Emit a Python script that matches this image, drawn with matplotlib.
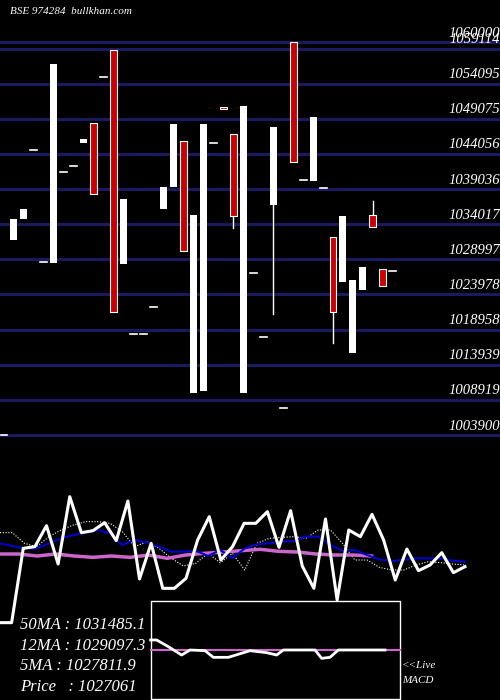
import matplotlib
matplotlib.use("Agg")
import matplotlib.pyplot as plt
import numpy as np

# candles: open, close (equal -> dash), extra wicks, colour flag
opens = [1003900, 1034766, 1036195, 1044627, 1028622, 1028479, 1041483, 1042340,
         1046198, 1038339, 1055058, 1058917, 1037624, 1018333, 1018333, 1022191,
         1036195, 1039339, 1045913, 1035338, 1048342, 1045627, 1050771, 1046913,
         1009902, 1027050, 1017904, 1036767, 1007758, 1060000, 1040340, 1040197,
         1039196, 1032194, 1025764, 1015618, 1024621, 1033623, 1027621, 1027336]
closes = [1003900, 1031766, 1034766, 1044627, 1028622, 1056916, 1041483, 1042340,
          1045627, 1048485, 1055058, 1021477, 1028336, 1018333, 1018333, 1022191,
          1039339, 1048342, 1030194, 1009902, 1010188, 1045627, 1050485, 1035195,
          1050914, 1027050, 1017904, 1047913, 1007758, 1042912, 1040340, 1049342,
          1039196, 1021477, 1035195, 1026050, 1027907, 1035338, 1025192, 1027336]
red_idx = [9, 11, 18, 22, 23, 29, 33, 37, 38]
highs = {37: 1037339}
lows = {23: 1033480, 27: 1021191, 33: 1017047}

grid_levels = [1060000, 1059114, 1054095, 1049075, 1044056, 1039036, 1034017,
               1028997, 1023978, 1018958, 1013939, 1008919, 1003900]

# indicator panel (arbitrary units, larger = higher)
price_line = [-428, -428, -205, -200, -137, -252, -50, -158, -152, -128, -182, -63,
              -297, -190, -325, -325, -295, -180, -110, -240, -200, -130, -130, -95,
              -202, -92, -258, -325, -117, -360, -150, -170, -103, -180, -300, -207,
              -272, -255, -218, -278, -260]
ma_blue = [-190, -198, -205, -205, -190, -175, -165, -158, -150, -160, -195, -180,
           -188, -200, -215, -215, -212, -228, -210, -235, -205, -193, -190, -185,
           -183, -170, -170, -195, -212, -210, -225, -238, -243, -240, -235, -235,
           -235, -242, -245]
ma_purple = [-222, -222, -228, -222, -228, -232, -228, -232, -225, -235, -225, -220,
             -216, -212, -208, -214, -216, -222, -225, -225, -228]
ma_dotted = [-158, -158, -190, -200, -170, -150, -135, -125, -125, -130, -155, -200,
             -185, -205, -235, -258, -250, -220, -248, -220, -270, -190, -175, -172,
             -170, -175, -150, -150, -190, -240, -240, -262, -270, -270, -255, -245,
             -248, -252, -255]
macd_line = [-480, -480, -500, -525, -510, -512, -532, -532, -512, -518, -525, -510,
             -510, -535, -532, -510, -510]
macd_x = [452, 470, 505, 545, 570, 615, 640, 685, 750, 800, 830, 850, 945, 965, 990,
          1015, 1155]

labels = ["50MA : 1031485.1", "12MA : 1029097.3", "5MA : 1027811.9", "Price   : 1027061"]

SERIF = "Liberation Serif"

fig = plt.figure(figsize=(5, 7), dpi=100, facecolor="black")
ax = fig.add_axes([0, 0, 1, 1], facecolor="black")
step = 142.9
ax.set_ylim(1003900 - 265 * step, 1003900 + 435 * step)
ax.set_xlim(-4 / 9.97, 496 / 9.97)
ax.axis("off")

for lv in grid_levels:
    ax.axhline(lv, color="#1a1a5e", lw=2.2, zorder=1)
    ax.text(49.75, lv + 9 * step, str(lv), color="white", ha="right", va="center",
            fontsize=10.5, family=SERIF, style="italic", zorder=3)

for i, (o, c) in enumerate(zip(opens, closes)):
    red = i in red_idx
    col = "#cc0000" if red else "white"
    top, bot = max(o, c), min(o, c)
    if i in highs:
        ax.plot([i, i], [top, highs[i]], color="white", lw=1, zorder=2)
    if i in lows:
        ax.plot([i, i], [bot, lows[i]], color="white", lw=1, zorder=2)
    if top - bot < 200:
        ax.plot([i - 0.35, i + 0.35], [o, o], color="white", lw=1.2, zorder=2)
    else:
        ax.bar(i, top - bot, bottom=bot, width=0.7, color=col,
               edgecolor="white", linewidth=0.8 if red else 0, zorder=2)

fig.text(0.02, 0.983, "BSE 974284  bullkhan.com", color="white", fontsize=8,
         family=SERIF, style="italic", va="center")

# lower panel (x 0..500 px, y 480..700 of the image, 3 units per px)
lx = fig.add_axes([0, 0, 1, 220 / 700], facecolor="none")
lx.set_xlim(0, 1500)
lx.set_ylim(-660, 0)
lx.axis("off")


def xs(n, end):
    return np.linspace(0, end, n)


lx.plot(xs(len(ma_dotted), 1395), ma_dotted, color="white", lw=0.8, ls=(0, (1, 1.5)))
lx.plot(xs(len(ma_purple), 1115), ma_purple, color="#cc66cc", lw=2.5)
lx.plot(xs(len(ma_blue), 1395), ma_blue, color="#0000cc", lw=1.5)
lx.plot(xs(len(price_line), 1395), price_line, color="white", lw=2.2)

box = plt.Rectangle((452, -657), 748, 295, facecolor="black", edgecolor="white", lw=1, zorder=4)
lx.add_patch(box)
lx.plot([452, 1200], [-510, -510], color="#cc66cc", lw=1.5, zorder=5)
lx.plot(macd_x, macd_line, color="white", lw=2, zorder=6)

for k, t in enumerate(labels):
    lx.text(60, -435 - k * 62, t, color="white", fontsize=12, family=SERIF,
            style="italic", va="center", zorder=7)
lx.text(1205, -558, "<<Live", color="white", fontsize=8, family=SERIF, style="italic", va="center")
lx.text(1205, -602, "MACD", color="white", fontsize=8, family=SERIF, style="italic", va="center")

fig.savefig("out.png", dpi=100, facecolor="black")
